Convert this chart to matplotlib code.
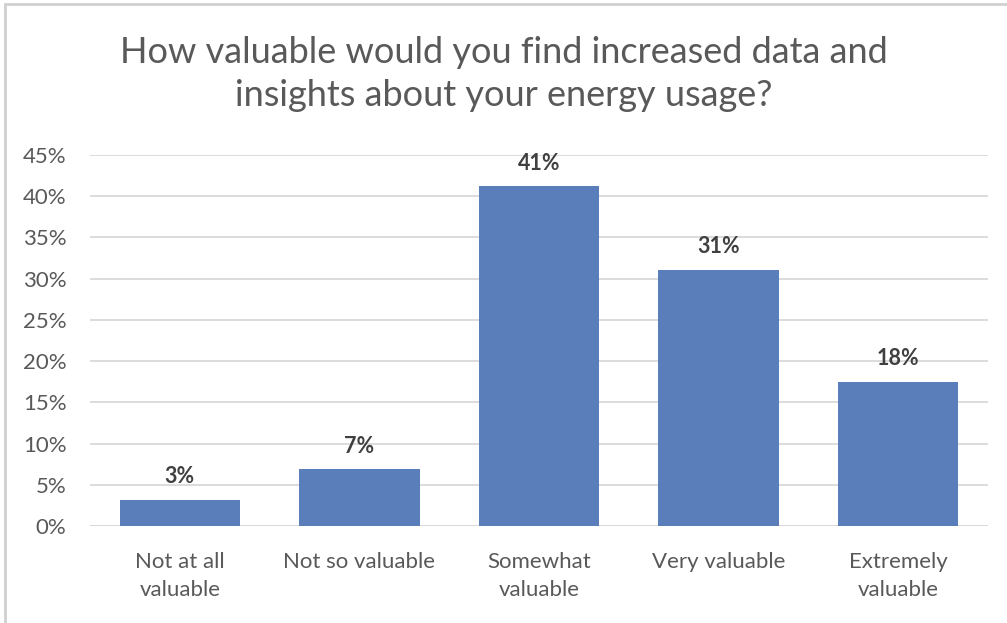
import matplotlib.pyplot as plt
from matplotlib.patches import Rectangle
from matplotlib.ticker import FuncFormatter

categories = ["Not at all\nvaluable", "Not so valuable", "Somewhat\nvaluable",
              "Very valuable", "Extremely\nvaluable"]
shares = [3.2, 6.9, 41.2, 31.1, 17.5]
value_labels = ["3%", "7%", "41%", "31%", "18%"]
title = "How valuable would you find increased data and\ninsights about your energy usage?"

plt.rcParams["font.family"] = ["Lato", "DejaVu Sans"]

fig = plt.figure(figsize=(10.07, 6.23), dpi=100)
ax = fig.add_axes([90 / 1007, 1 - 526 / 623, 898 / 1007, 371 / 623])

x = list(range(len(categories)))
ax.bar(x, shares, width=0.67, color="#5A7EBA", zorder=3)
for xi, v, lab in zip(x, shares, value_labels):
    ax.text(xi, v + 1.5, lab, ha="center", va="bottom", fontsize=15.5,
            fontweight="bold", color="#404040")

ax.set_xlim(-0.5, 4.5)
ax.set_ylim(0, 45)
ax.set_yticks(range(0, 46, 5))
ax.yaxis.set_major_formatter(FuncFormatter(lambda v, _: f"{v:.0f}%"))
ax.set_xticks(x)
ax.set_xticklabels(categories, fontsize=16, color="#595959", linespacing=1.45)
ax.tick_params(axis="y", labelsize=16, labelcolor="#595959", length=0, pad=17)
ax.tick_params(axis="x", length=0, pad=19)
ax.grid(axis="y", color="#D9D9D9", linewidth=1.3, zorder=0)
for s in ax.spines.values():
    s.set_visible(False)
ax.axhline(0, color="#D9D9D9", linewidth=1.3, zorder=1)

fig.text(0.5, 1 - 74 / 623, title, ha="center", va="center", fontsize=26,
         color="#595959", linespacing=1.35)

fig.patches.append(Rectangle((5 / 1007, -0.1), 1.1, 1 - 4 / 623 + 0.1,
                             transform=fig.transFigure, fill=False,
                             edgecolor="#D0D0D0", linewidth=2))

fig.savefig("out.png", dpi=100)
